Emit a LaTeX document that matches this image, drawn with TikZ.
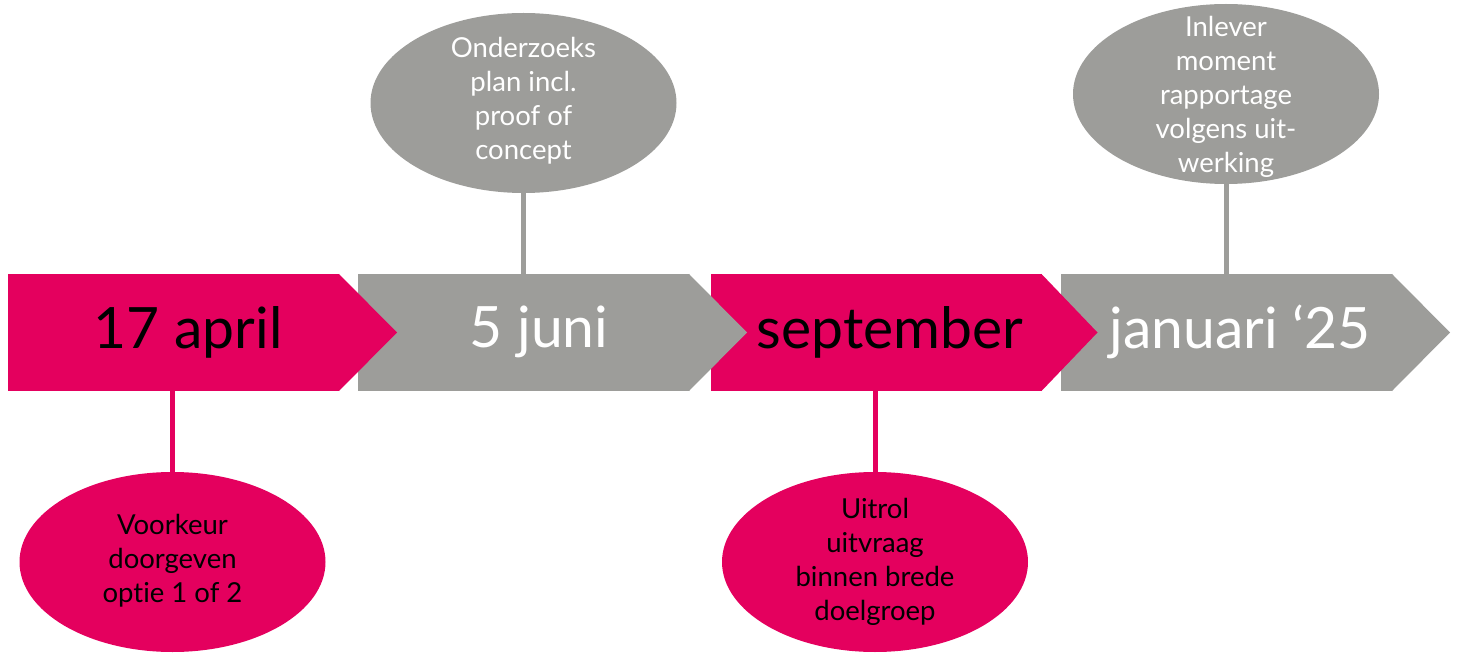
\documentclass[tikz,border=0pt]{standalone}
\usepackage{fontspec}
\setmainfont{Lato}[Ligatures={NoCommon,NoRare,NoDiscretionary},Contextuals=NoAlternate]
\usetikzlibrary{shapes.geometric,calc}
\definecolor{tlpink}{RGB}{228,0,94}
\definecolor{tlgray}{RGB}{157,157,154}
\tikzset{
  body/.style={rectangle, minimum width=331pt, minimum height=117pt, inner sep=0pt, outer sep=0pt},
  datelabel/.style={inner sep=0pt, font=\fontsize{57}{62}\selectfont},
  ell/.style={ellipse, minimum width=306pt, minimum height=180pt, inner sep=0pt},
  elltext/.style={inner sep=0pt, align=center, font=\fontsize{27.5}{34}\selectfont},
  conn/.style={line width=5pt},
}
\begin{document}
\begin{tikzpicture}[x=1pt,y=-1pt]
\useasboundingbox (0,0) rectangle (1460,655);
% chevrons, drawn right to left so each tip lies on the next body
\node[body, fill=tlgray] (b4) at (1226.5,332.5) {};
\fill[tlgray] (b4.north east) -- ($(b4.east)+(58,0)$) -- (b4.south east) -- cycle;
\node[body, fill=tlpink] (b3) at (876,332.5) {};
\fill[tlpink] (b3.north east) -- ($(b3.east)+(56,0)$) -- (b3.south east) -- cycle;
\node[body, fill=tlgray] (b2) at (523.5,332.5) {};
\fill[tlgray] (b2.north east) -- ($(b2.east)+(58,0)$) -- (b2.south east) -- cycle;
\node[body, fill=tlpink] (b1) at (173.5,332.5) {};
\fill[tlpink] (b1.north east) -- ($(b1.east)+(58,0)$) -- (b1.south east) -- cycle;
% date labels
\node[datelabel, text=black] (d1) at (188,332) {17 april};
\node[datelabel, text=white] (d2) at (539,332) {5 juni};
\node[datelabel, text=black] (d3) at (890,332) {september};
\node[datelabel, text=white] (d4) at (1240,332) {januari ‘25};
% ellipses
\node[ell, fill=tlgray] (e2) at (523.5,103) {};
\node[elltext, text=white] (t2) at (523.5,101) {Onderzoeks\\plan incl.\\proof of\\concept};
\node[ell, fill=tlgray] (e4) at (1226,94) {};
\node[elltext, text=white] (t4) at (1226,97) {Inlever\\moment\\rapportage\\volgens uit-\\werking};
\node[ell, fill=tlpink] (e1) at (172.5,562) {};
\node[elltext, text=black] (t1) at (172.5,561) {Voorkeur\\doorgeven\\optie 1 of 2};
\node[ell, fill=tlpink] (e3) at (875,562) {};
\node[elltext, text=black] (t3) at (875,562) {Uitrol\\uitvraag\\binnen brede\\doelgroep};
% connectors
\draw[conn, tlgray] (e2.south) -- (e2.south |- b2.north);
\draw[conn, tlgray] (e4.south) -- (e4.south |- b4.north);
\draw[conn, tlpink] (e1.north) -- (e1.north |- b1.south);
\draw[conn, tlpink] (e3.north) -- (e3.north |- b3.south);
\end{tikzpicture}
\end{document}
